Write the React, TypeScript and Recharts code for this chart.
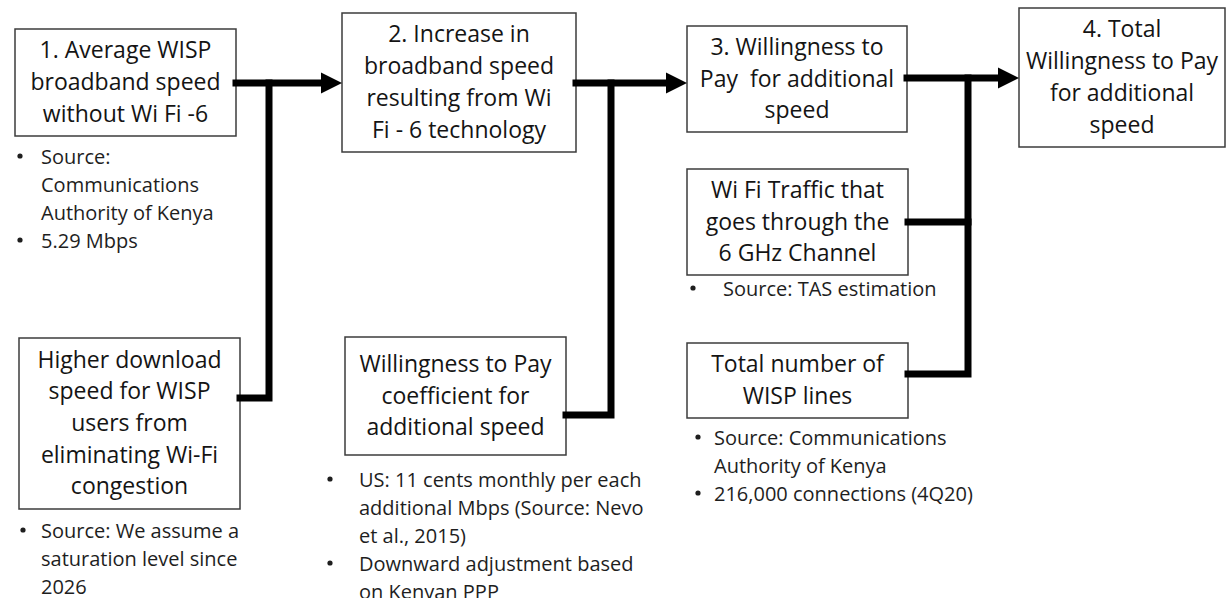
import React from "react";
import {
  ComposedChart,
  XAxis,
  YAxis,
  ReferenceArea,
  Line,
  Scatter,
} from "recharts";

// diagram grid: x 0..1226, y 0..598 (top down)
const W = 1226;
const H = 598;

const stepBoxes = [
  { lines: ["1. Average WISP", "broadband speed", "without Wi Fi -6"], x1: 15, x2: 236, y1: 29, y2: 136 },
  { lines: ["2. Increase in", "broadband speed", "resulting from Wi", "Fi - 6 technology"], x1: 342, x2: 576, y1: 13, y2: 152 },
  { lines: ["3. Willingness to", "Pay  for additional", "speed"], x1: 687, x2: 907, y1: 26, y2: 132 },
  { lines: ["4. Total", "Willingness to Pay", "for additional", "speed"], x1: 1019, x2: 1225, y1: 8, y2: 147 },
];

const inputBoxes = [
  { lines: ["Higher download", "speed for WISP", "users from", "eliminating Wi-Fi", "congestion"], x1: 19, x2: 240, y1: 338, y2: 509 },
  { lines: ["Willingness to Pay", "coefficient for", "additional speed"], x1: 345, x2: 566, y1: 337, y2: 455 },
  { lines: ["Wi Fi Traffic that", "goes through the", "6 GHz Channel"], x1: 687, x2: 908, y1: 169, y2: 275 },
  { lines: ["Total number of", "WISP lines"], x1: 687, x2: 908, y1: 343, y2: 418 },
];

const notes = [
  { bulletX: 20, textX: 41, top: 156, items: [["Source:", "Communications", "Authority of Kenya"], ["5.29 Mbps"]] },
  { bulletX: 23, textX: 41, top: 530, items: [["Source: We assume a", "saturation level since", "2026"]] },
  { bulletX: 330, textX: 359, top: 479, items: [["US: 11 cents monthly per each", "additional Mbps (Source: Nevo", "et al., 2015)"], ["Downward adjustment based", "on Kenyan PPP"]] },
  { bulletX: 693, textX: 723, top: 288, items: [["Source: TAS estimation"]] },
  { bulletX: 698, textX: 714, top: 437, items: [["Source: Communications", "Authority of Kenya"], ["216,000 connections (4Q20)"]] },
];

const connectors = [
  [[236, 83], [324, 83]],
  [[240, 398], [269, 398], [269, 83]],
  [[576, 83], [670, 83]],
  [[566, 415], [611, 415], [611, 83]],
  [[907, 78], [1001, 78]],
  [[908, 222], [968, 222]],
  [[908, 374], [968, 374], [968, 78]],
];

const arrowTips = [[342, 83], [687, 83], [1019, 78]];

const BOX_FONT = 23;
const BOX_LINE = 31.7;
const NOTE_FONT = 20;
const NOTE_LINE = 28;
const FONT = "'Open Sans', sans-serif";

const allBoxes = [...stepBoxes, ...inputBoxes];

const boxTextPoints = allBoxes.map((b) => ({
  x: (b.x1 + b.x2) / 2,
  y: (b.y1 + b.y2) / 2,
  lines: b.lines,
}));

const noteLinePoints: { x: number; y: number; text: string }[] = [];
const bulletPoints: { x: number; y: number }[] = [];
notes.forEach((n) => {
  let row = 0;
  n.items.forEach((item) => {
    bulletPoints.push({ x: n.bulletX, y: n.top + row * NOTE_LINE });
    item.forEach((t) => {
      noteLinePoints.push({ x: n.textX, y: n.top + row * NOTE_LINE, text: t });
      row++;
    });
  });
});

const tipPoints = arrowTips.map(([x, y]) => ({ x, y }));

function BoxText(props: any) {
  const { cx, cy, payload } = props;
  const lines: string[] = payload.lines;
  const start = cy - 1.5 - ((lines.length - 1) * BOX_LINE) / 2;
  return (
    <text
      textAnchor="middle"
      dominantBaseline="central"
      fontFamily={FONT}
      fontSize={BOX_FONT}
      fill="#141414"
      style={{ whiteSpace: "pre" }}
    >
      {lines.map((l, i) => (
        <tspan key={i} x={cx} y={start + i * BOX_LINE}>
          {l}
        </tspan>
      ))}
    </text>
  );
}

function NoteText(props: any) {
  const { cx, cy, payload } = props;
  return (
    <text
      x={cx}
      y={cy}
      dominantBaseline="central"
      fontFamily={FONT}
      fontSize={NOTE_FONT}
      fill="#1e1e1e"
    >
      {payload.text}
    </text>
  );
}

function Bullet(props: any) {
  const { cx, cy } = props;
  return <circle cx={cx} cy={cy} r={2.6} fill="#1e1e1e" />;
}

function ArrowHead(props: any) {
  const { cx, cy } = props;
  return (
    <polygon
      points={`${cx},${cy} ${cx - 21},${cy - 10.5} ${cx - 21},${cy + 10.5}`}
      fill="#000"
    />
  );
}

export default function App() {
  return (
    <div
      style={{
        position: "absolute",
        left: 0,
        top: 0,
        width: W,
        height: H,
        background: "#fff",
      }}
    >
      <ComposedChart
        width={W}
        height={H}
        margin={{ top: 0, right: 0, bottom: 0, left: 0 }}
      >
        <XAxis type="number" dataKey="x" domain={[0, W]} hide />
        <YAxis type="number" dataKey="y" domain={[0, H]} reversed hide />
        {connectors.map((c, i) => (
          <Line
            key={`c-${i}`}
            data={c.map(([x, y]) => ({ x, y }))}
            dataKey="y"
            type="linear"
            stroke="#000"
            strokeWidth={7}
            strokeLinecap="square"
            strokeLinejoin="miter"
            dot={false}
            activeDot={false}
            legendType="none"
            isAnimationActive={false}
          />
        ))}
        {allBoxes.map((b, i) => (
          <ReferenceArea
            key={`b-${i}`}
            x1={b.x1}
            x2={b.x2}
            y1={b.y1}
            y2={b.y2}
            fill="#fff"
            fillOpacity={1}
            stroke="#3c3c3c"
            strokeWidth={1.5}
            ifOverflow="visible"
          />
        ))}
        <Scatter data={boxTextPoints} shape={<BoxText />} isAnimationActive={false} />
        <Scatter data={noteLinePoints} shape={<NoteText />} isAnimationActive={false} />
        <Scatter data={bulletPoints} shape={<Bullet />} isAnimationActive={false} />
        <Scatter data={tipPoints} shape={<ArrowHead />} isAnimationActive={false} />
      </ComposedChart>
    </div>
  );
}
